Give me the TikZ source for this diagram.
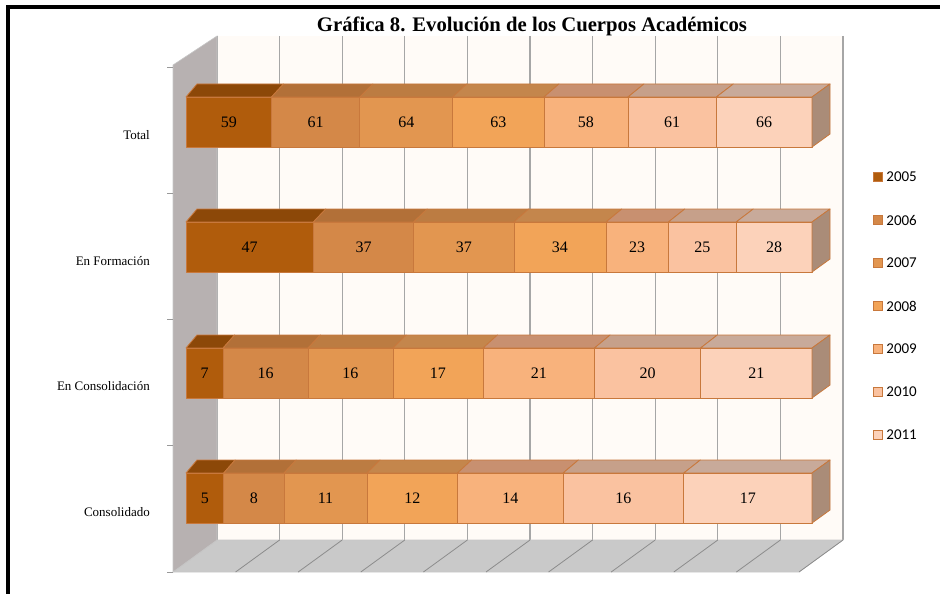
\documentclass[tikz,border=0pt]{standalone}
\usepackage{fontspec}
\setmainfont{Liberation Serif}
\newfontfamily\legendfont{Carlito}
\usetikzlibrary{positioning}

\definecolor{yr1}{HTML}{B05C0C}
\definecolor{yr2}{HTML}{D48848}
\definecolor{yr3}{HTML}{E29650}
\definecolor{yr4}{HTML}{F2A458}
\definecolor{yr5}{HTML}{F8B27C}
\definecolor{yr6}{HTML}{FAC2A0}
\definecolor{yr7}{HTML}{FCD2BA}
\definecolor{tp1}{HTML}{8C4808}
\definecolor{tp2}{HTML}{B27038}
\definecolor{tp3}{HTML}{BC7C42}
\definecolor{tp4}{HTML}{C4864C}
\definecolor{tp5}{HTML}{C89070}
\definecolor{tp6}{HTML}{C6A08A}
\definecolor{tp7}{HTML}{C8AA9A}
\definecolor{barside}{HTML}{AA8C78}
\definecolor{baredge}{HTML}{C8783C}

% one stacked bar: name, top y, total, values
\newcommand{\stackrow}[4]{%
  \gdef\cumsum{0}
  \pgfmathsetmacro\unitw{626/#3}
  \foreach \v [count=\i] in {#4} {
    \pgfmathsetmacro\xa{186+\cumsum*\unitw}
    \pgfmathsetmacro\newsum{\cumsum+\v}
    \pgfmathsetmacro\xb{186+\newsum*\unitw}
    \pgfmathsetmacro\ba{197+(\xa-186)*1.0112}
    \pgfmathsetmacro\bb{197+(\xb-186)*1.0112}
    \global\let\cumsum\newsum
    \filldraw[barface, fill=tp\i] (\xa,#2) -- (\ba,#2-13) -- (\bb,#2-13) -- (\xb,#2) -- cycle;
    \filldraw[barface, fill=yr\i] (\xa,#2) rectangle (\xb,#2+50);
    \node[val] (#1-\i) at ({(\xa+\xb)/2},#2+25) {\v};
  }
  \filldraw[barface, fill=barside] (812,#2) -- (830,#2-13) -- (830,#2+37) -- (812,#2+50) -- cycle;
}

\begin{document}
\begin{tikzpicture}[
    x=1pt, y=-1pt,
    grid/.style={draw=black!35, line width=1.2pt},
    floorline/.style={draw=black!45, line width=0.8pt},
    wall/.style={fill=black!29!white!98!red, draw=black!22, line width=0.6pt},
    barface/.style={draw=baredge, line width=0.8pt, line join=round},
    val/.style={font=\fontsize{16}{18}\selectfont, inner sep=0pt},
    cat/.style={anchor=base east, font=\fontsize{13}{15}\selectfont, inner sep=0pt},
    legsq/.style={draw=baredge, minimum size=9pt, inner sep=0pt},
    legtxt/.style={font=\legendfont\fontsize{15}{17}\selectfont, inner sep=1pt},
    title/.style={anchor=base, font=\bfseries\fontsize{20.7}{24}\selectfont}
]
\useasboundingbox (0,0) rectangle (940,594);
\clip (0,0) rectangle (940,594);

% marco
\draw[line width=4pt] (7.5,7) rectangle (1000,1000);

% titulo
\node[title] (title) at (532,32) {Gráfica 8. Evolución de los Cuerpos Académicos};

% pared del fondo y rejilla
\fill[white!97!orange] (217,36) rectangle (843,540);
\foreach \k in {0,...,10}
    \draw[grid] ({217+62.6*\k},36) -- ({217+62.6*\k},540);

% piso y pared izquierda
\filldraw[wall, fill=black!21] (173,572) -- (217,540) -- (843,540) -- (799,572) -- cycle;
\foreach \k in {1,...,10}
    \draw[floorline] ({217+62.6*\k},540) -- ({173+62.6*\k},572);
\filldraw[wall] (173,65) -- (217,36) -- (217,540) -- (173,572) -- cycle;
\foreach \k in {0,...,4}
    \draw[black!40, line width=0.8pt] (167,{67+126.25*\k}) -- (173,{67+126.25*\k});

% barras
\stackrow{total}{97}{432}{59,61,64,63,58,61,66}
\stackrow{form}{222}{231}{47,37,37,34,23,25,28}
\stackrow{cons}{348}{118}{7,16,16,17,21,20,21}
\stackrow{csd}{473}{83}{5,8,11,12,14,16,17}

% categorias
\node[cat] (lab-total) at (150,139) {Total};
\node[cat] (lab-form) at (150,265) {En Formación};
\node[cat] (lab-cons) at (150,390) {En Consolidación};
\node[cat] (lab-csd) at (150,516) {Consolidado};

% leyenda
\foreach \i/\yr in {1/2005,2/2006,3/2007,4/2008,5/2009,6/2010,7/2011} {
    \node[legsq, fill=yr\i] (sq\i) at (877.5,{177+43*(\i-1)}) {};
    \node[legtxt, right=3pt of sq\i] (leg\i) {\yr};
}

\end{tikzpicture}
\end{document}
